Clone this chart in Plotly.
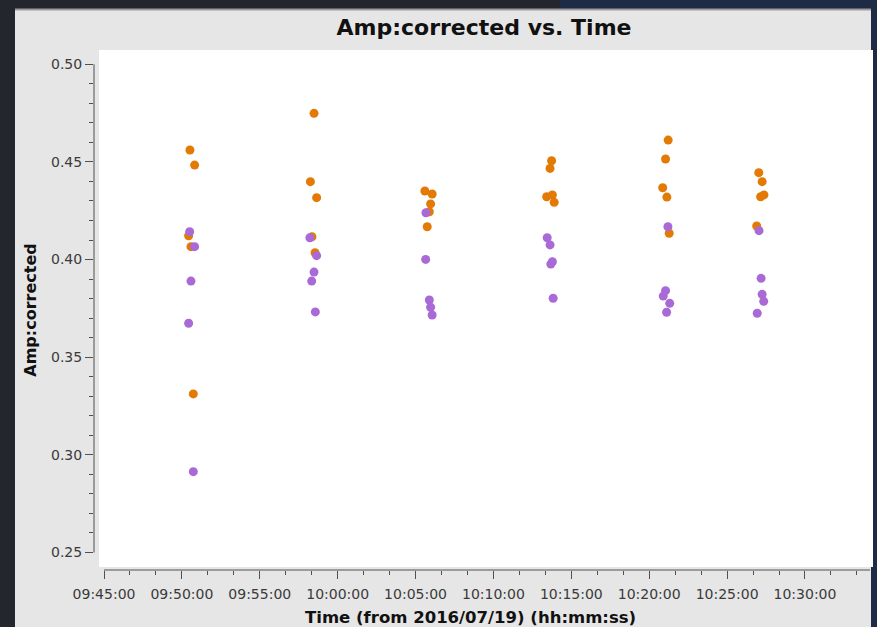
import pandas as pd
import plotly.graph_objects as go

DATE = "2016-07-19"

# Correlation 1 (orange): scan times and corrected amplitudes
orange_time = ["09:50:31", "09:50:49", "09:50:26", "09:50:35", "09:50:44",
               "09:58:29", "09:58:15", "09:58:39", "09:58:21", "09:58:33",
               "10:05:36", "10:06:04", "10:05:58", "10:05:53", "10:05:45",
               "10:13:44", "10:13:38", "10:13:25", "10:13:47", "10:13:54",
               "10:21:13", "10:21:03", "10:20:52", "10:21:08", "10:21:17",
               "10:27:02", "10:27:15", "10:27:09", "10:27:22", "10:26:54"]
orange_amp = [0.4561, 0.4484, 0.4122, 0.4066, 0.3312,
              0.4749, 0.4399, 0.4317, 0.4117, 0.4035,
              0.4351, 0.4336, 0.4285, 0.4245, 0.4168,
              0.4506, 0.4467, 0.4322, 0.4331, 0.4293,
              0.4612, 0.4515, 0.4368, 0.4320, 0.4135,
              0.4445, 0.4399, 0.4322, 0.4331, 0.4172]

# Correlation 2 (purple)
purple_time = ["09:50:30", "09:50:49", "09:50:35", "09:50:26", "09:50:44",
               "09:58:13", "09:58:39", "09:58:29", "09:58:20", "09:58:34",
               "10:05:40", "10:05:39", "10:05:53", "10:05:58", "10:06:04",
               "10:13:27", "10:13:38", "10:13:47", "10:13:41", "10:13:50",
               "10:21:12", "10:21:03", "10:20:54", "10:21:19", "10:21:07",
               "10:27:03", "10:27:11", "10:27:15", "10:27:21", "10:26:56"]
purple_amp = [0.4143, 0.4066, 0.3890, 0.3674, 0.2914,
              0.4112, 0.4020, 0.3936, 0.3890, 0.3732,
              0.4240, 0.4001, 0.3793, 0.3756, 0.3716,
              0.4112, 0.4075, 0.3989, 0.3977, 0.3802,
              0.4168, 0.3841, 0.3813, 0.3776, 0.3730,
              0.4148, 0.3904, 0.3822, 0.3786, 0.3725]

y_ticks = [0.25, 0.30, 0.35, 0.40, 0.45, 0.50]
x_tick0 = "09:45:00"

ORANGE = "#e27a05"
PURPLE = "#a96ad8"
PANEL = "#e6e6e6"
AXIS = "#505050"
FONT = "DejaVu Sans"

W, H = 877, 627
L, R, T, B = 94, 870, 50, 570          # plot-area edges in pixels

def stamp(hms):
    return pd.Timestamp(f"{DATE} {hms}")

x_range = [stamp("09:44:21.5"), stamp("10:34:10.4")]
y_range = [0.24104, 0.50732]

def paper_x(px):
    return (px - L) / (R - L)

def paper_y(py):
    return (B - py) / (B - T)

fig = go.Figure()
fig.add_trace(go.Scatter(
    x=[stamp(t) for t in orange_time], y=orange_amp, mode="markers",
    marker=dict(color=ORANGE, size=9, line=dict(width=0)),
    showlegend=False, hoverinfo="x+y"))
fig.add_trace(go.Scatter(
    x=[stamp(t) for t in purple_time], y=purple_amp, mode="markers",
    marker=dict(color=PURPLE, size=9, line=dict(width=0)),
    showlegend=False, hoverinfo="x+y"))

span = (x_range[1] - x_range[0]).total_seconds()
x_line_start = (stamp(x_tick0) - x_range[0]).total_seconds() / span
y_span = y_range[1] - y_range[0]

shapes = [
    # wallpaper accents around the window
    dict(type="rect", xref="paper", yref="paper",
         x0=paper_x(560), x1=paper_x(W), y0=paper_y(0), y1=paper_y(10),
         fillcolor="#1d2b45", line_width=0, layer="below"),
    dict(type="rect", xref="paper", yref="paper",
         x0=paper_x(871), x1=paper_x(W), y0=paper_y(H), y1=paper_y(0),
         fillcolor="#1d2b45", line_width=0, layer="below"),
    # grey window panel
    dict(type="rect", xref="paper", yref="paper",
         x0=paper_x(15), x1=paper_x(871), y0=paper_y(H), y1=paper_y(9),
         fillcolor=PANEL, line_width=0, layer="below"),
    dict(type="line", xref="paper", yref="paper",
         x0=paper_x(15), x1=paper_x(871), y0=paper_y(9.5), y1=paper_y(9.5),
         line=dict(color="#9c9c9c", width=2), layer="below"),
    # white canvas
    dict(type="rect", xref="paper", yref="paper",
         x0=paper_x(99), x1=paper_x(873), y0=paper_y(567), y1=paper_y(50),
         fillcolor="white", line_width=0, layer="below"),
    # axis spines
    dict(type="line", xref="paper", yref="paper",
         x0=x_line_start, x1=1, y0=0, y1=0,
         line=dict(color=AXIS, width=1)),
    dict(type="line", xref="paper", yref="paper", x0=0, x1=0,
         y0=(y_ticks[0] - y_range[0]) / y_span,
         y1=(y_ticks[-1] - y_range[0]) / y_span,
         line=dict(color=AXIS, width=1)),
]

fig.update_layout(
    width=W, height=H,
    margin=dict(l=L, r=W - R, t=T, b=H - B, pad=0),
    paper_bgcolor="#23272d",
    plot_bgcolor="rgba(0,0,0,0)",
    font=dict(family=FONT, color="#333333"),
    title=dict(text="Amp:corrected vs. Time", xref="container", yref="container",
               x=484 / W, y=1 - 27 / H, xanchor="center", yanchor="middle",
               font=dict(family=FONT, size=22, color="#111111", weight="bold")),
    shapes=shapes,
    annotations=[dict(
        text="Time (from 2016/07/19) (hh:mm:ss)", showarrow=False,
        xref="paper", yref="paper", x=paper_x(470), y=paper_y(617),
        xanchor="center", yanchor="middle",
        font=dict(family=FONT, size=16.5, color="#111111", weight="bold"))],
    showlegend=False,
)

fig.update_xaxes(
    type="date", range=x_range, showgrid=False, zeroline=False, showline=False,
    tick0=stamp(x_tick0), dtick=300000, tickformat="%H:%M:%S",
    ticks="outside", ticklen=8, tickwidth=1, tickcolor=AXIS,
    ticklabelstandoff=3,
    tickfont=dict(family=FONT, size=14, color="#3a3a3a"),
    minor=dict(ticks="outside", ticklen=4, tickwidth=1, tickcolor=AXIS,
               dtick=100000, tick0=stamp(x_tick0), showgrid=False),
    automargin=False,
)

fig.update_yaxes(
    range=y_range, showgrid=False, zeroline=False, showline=False,
    tickvals=y_ticks, tickformat=".2f",
    ticks="outside", ticklen=8, tickwidth=1, tickcolor=AXIS,
    tickfont=dict(family=FONT, size=14, color="#3a3a3a"),
    minor=dict(ticks="outside", ticklen=4, tickwidth=1, tickcolor=AXIS,
               dtick=0.01, tick0=0.25, showgrid=False),
    title=dict(text="Amp:corrected", standoff=10,
               font=dict(family=FONT, size=16, color="#111111", weight="bold")),
    automargin=False,
)

fig.write_html("out.html")
